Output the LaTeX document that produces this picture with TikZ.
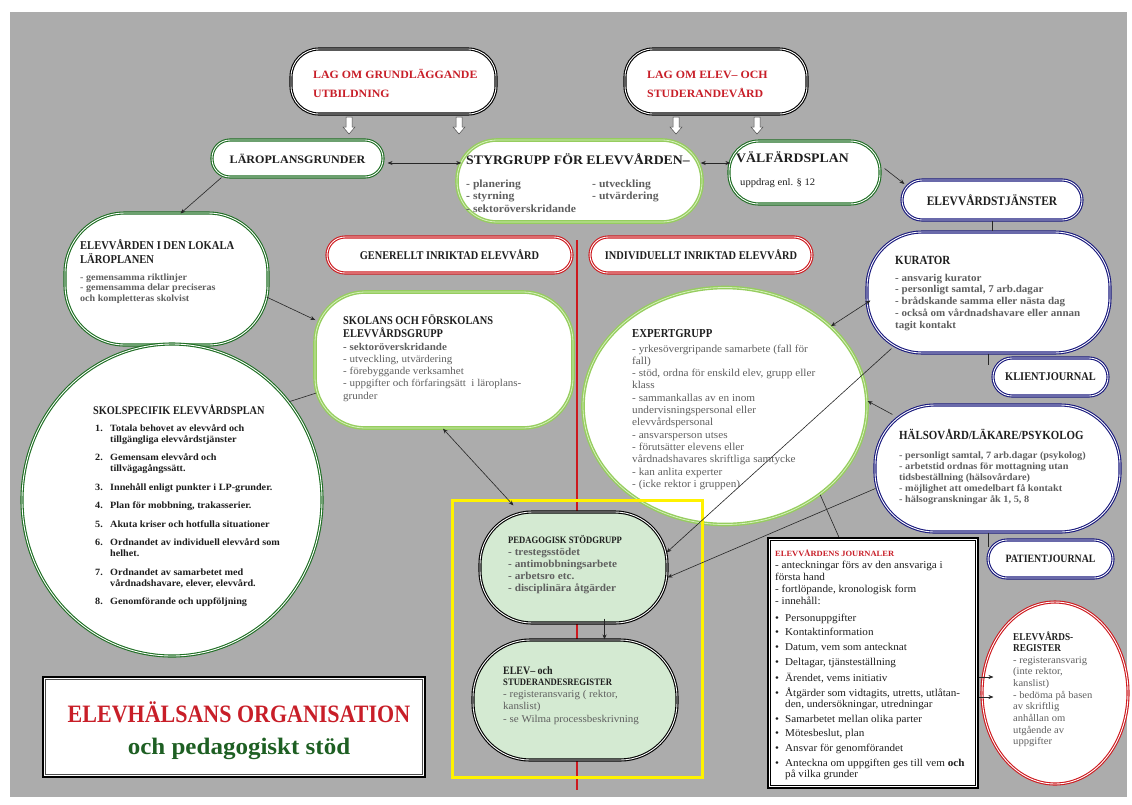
\documentclass[tikz,border=0pt]{standalone}
\usepackage{fontspec}
\setmainfont{Liberation Serif}[FakeStretch=1.06]
\newfontfamily\cf{Liberation Serif}[FakeStretch=0.88]
\usetikzlibrary{arrows.meta,calc,shapes.geometric}
\definecolor{bgC}{RGB}{172,172,172}
\definecolor{dgC}{RGB}{30,110,35}
\definecolor{lgC}{RGB}{150,205,95}
\definecolor{lgInC}{RGB}{215,240,190}
\definecolor{nvC}{RGB}{25,25,125}
\definecolor{rdC}{RGB}{205,25,30}
\definecolor{trC}{RGB}{200,30,40}
\definecolor{tgC}{RGB}{30,95,35}
\definecolor{gyC}{RGB}{95,95,95}
\definecolor{pgC}{RGB}{212,234,210}
\definecolor{txC}{RGB}{30,30,30}
\newcommand\myfs[2]{\fontsize{#1}{#2}\selectfont}
\newcommand\mytab[1]{\begin{tabular}[t]{@{}l@{}}#1\end{tabular}}
\begin{document}
\begin{tikzpicture}[x=1pt,y=-1pt,
 shp/.style n args={3}{rectangle, minimum width=#1pt, minimum height=#2pt, rounded corners=#3pt, inner sep=0pt, fill=white},
 ell/.style n args={2}{ellipse, minimum width=#1pt, minimum height=#2pt, inner sep=0pt, fill=white},
 bdk/.style={draw=black, double=white, line width=1.1pt, double distance=0.9pt},
 bdg/.style={draw=dgC, double=white, line width=1.1pt, double distance=0.9pt},
 blg/.style={draw=lgC, double=lgInC, line width=1.4pt, double distance=0.8pt},
 bnv/.style={draw=nvC, double=white, line width=1.1pt, double distance=0.9pt},
 brd/.style={draw=rdC, double=white, line width=1.1pt, double distance=0.9pt},
 txt/.style={inner sep=0pt, anchor=base west, text=txC},
 ctx/.style={inner sep=0pt, anchor=center, align=center, text=txC},
 con/.style={draw=black!85, line width=0.6pt},
 arr/.style={con, -{Stealth[length=5pt,width=4pt]}},
 darr/.style={con, {Stealth[length=5pt,width=4pt]}-{Stealth[length=5pt,width=4pt]}},
 hollow/.style={draw=black!70, fill=white, line width=0.5pt},
]
\useasboundingbox (0,0) rectangle (1132,804);
\fill[white] (0,0) rectangle (1132,804);
\fill[bgC] (10,12) rectangle (1127,797);

% red divider
\draw[rdC, line width=2.5pt] (577,240) -- (577,790);

% shapes
\node[shp={205}{65}{28}, bdk] (lag1) at (393.5,81.5) {};
\node[shp={182}{65}{28}, bdk] (lag2) at (716,81.5) {};
\node[shp={171}{37}{18}, bdg] (lpg) at (297.5,158.5) {};
\node[shp={245}{82}{40}, blg] (styr) at (579.5,181) {};
\node[shp={151}{63}{30}, bdg] (valf) at (804.5,172.5) {};
\node[shp={180}{40}{20}, bnv] (elt) at (992,200) {};
\node[shp={243}{121}{55}, bnv] (kur) at (988.5,292.5) {};
\node[shp={115}{38}{19}, bnv] (klient) at (1050.5,377) {};
\node[shp={245}{127}{60}, bnv] (hals) at (997.5,468.5) {};
\node[shp={125}{38}{19}, bnv] (pat) at (1050.5,559) {};
\node[shp={203}{132}{60}, bdg] (elv) at (166.5,279) {};
\node[shp={245}{36}{18}, brd] (gen) at (449.5,255) {};
\node[shp={222}{36}{18}, brd] (ind) at (701,255) {};
\node[shp={258}{136}{50}, blg] (sko) at (444,360) {};
\node[ell={300}{312}, bdg] (ssp) at (172,500) {};
\node[ell={284}{237}, blg] (exp) at (725,406) {};
\node[shp={187}{111}{52}, bdk, fill=pgC] (ped) at (573.5,567.5) {};
\node[shp={204}{120}{57}, bdk, fill=pgC] (reg) at (575,700) {};
\node[rectangle, minimum width=210pt, minimum height=250pt, draw=black, line width=2.5pt, fill=white, inner sep=0pt] (jour) at (873,663) {};
\draw[line width=0.8pt] ($(jour.north west)+(4,4)$) rectangle ($(jour.south east)+(-4,-4)$);
\node[ell={146}{182}, brd] (evr) at (1055,693) {};
\node[rectangle, minimum width=382pt, minimum height=100pt, draw=black, line width=2.5pt, fill=white, inner sep=0pt] (ttl) at (234,727) {};
\draw[line width=0.8pt, black!70] ($(ttl.north west)+(4,4)$) rectangle ($(ttl.south east)+(-4,-4)$);

% yellow frame
\draw[yellow, line width=3pt] (452,500) rectangle (702,777);

% hollow arrows under the laws
\foreach \cx in {349,459,676,757}
  \draw[hollow] (\cx-3,117) -- (\cx+3,117) -- (\cx+3,127) -- (\cx+6,127) -- (\cx,134) -- (\cx-6,127) -- (\cx-3,127) -- cycle;

% connectors
\draw[darr] ($(lpg.east)+(4,4.5)$) -- ($(styr.west|-lpg.east)+(5,4.5)$);
\draw[darr] ($(styr.east)+(-2,-18)$) -- ($(valf.west)+(2,-9.5)$);
\draw[arr] ($(valf.east)+(4,-4)$) -- ($(elt.west)+(3,-16)$);
\draw[con] (elt.south) -- (elt.south|-kur.north);
\draw[con] (kur.south) -- ($(kur.south|-klient.north)+(0,8)$);
\draw[con] ($(hals.south)+(-9,0)$) -- ($(hals.south|-pat.north)+(-9,8)$);
\draw[arr] ($(lpg.south west)+(10,0)$) -- ($(elv.north)+(14,1)$);
\draw[arr] ($(elv.east)+(-2,18)$) -- ($(sko.west)+(1,-40)$);
\draw[con] ($(sko.west)+(2,33)$) -- (ssp.40);
\draw[darr] ($(sko.south)+(-1,0)$) -- ($(ped.north west)+(34,-6)$);
\draw[darr] (exp.37) -- ($(kur.west)+(4,8)$);
\draw[arr] ($(hals.north west)+(18,10)$) -- (exp.2);
\draw[arr] ($(kur.south west)+(25,-5)$) -- ($(ped.east)+(-1,-15)$);
\draw[arr] ($(hals.west)+(1,20)$) -- ($(ped.east)+(0,10)$);
\draw[arr] ($(ped.south)+(31,-5)$) -- ($(ped.south|-reg.north)+(31,0)$);
\draw[con] (exp.-43) -- ($(jour.north west)+(72,0)$);
\draw[arr] ($(jour.east)+(0,14)$) -- ($(evr.west|-jour.east)+(12,14)$);
\draw[arr] ($(jour.east)+(0,34)$) -- ($(evr.west|-jour.east)+(12,34)$);

% texts
\node[txt, text=trC, font=\bfseries\myfs{11.2}{19}] (tlag1) at (313,78) {\mytab{LAG OM GRUNDLÄGGANDE\\UTBILDNING}};
\node[txt, text=trC, font=\bfseries\myfs{11.2}{19}] (tlag2) at (647,78) {\mytab{LAG OM ELEV– OCH\\STUDERANDEVÅRD}};
\node[ctx, font=\bfseries\myfs{11.4}{12}] (tlpg) at (lpg) {LÄROPLANSGRUNDER};
\node[txt, font=\bfseries\myfs{13}{14}] (tstyr) at (466,164) {STYRGRUPP FÖR ELEVVÅRDEN–};
\node[txt, text=gyC, font=\bfseries\myfs{11}{12.8}] (tstyra) at (466,187) {\mytab{- planering\\- styrning\\- sektoröverskridande}};
\node[txt, text=gyC, font=\bfseries\myfs{11}{12.8}] (tstyrb) at (592,187) {\mytab{- utveckling\\- utvärdering}};
\node[txt, font=\bfseries\myfs{13}{14}] (tvalf) at (736,162) {VÄLFÄRDSPLAN};
\node[txt, font=\myfs{10}{11}] (tvalfb) at (740,185) {uppdrag enl. § 12};
\node[ctx, font=\cf\bfseries\myfs{13}{13}] (telt) at (elt) {ELEVVÅRDSTJÄNSTER};
\node[txt, font=\cf\bfseries\myfs{12.5}{14}] (tkur) at (895,264) {KURATOR};
\node[txt, text=gyC, font=\bfseries\myfs{10.4}{11.8}] (tkurb) at (895,281) {\mytab{- ansvarig kurator\\- personligt samtal, 7 arb.dagar\\- brådskande samma eller nästa dag\\- också om vårdnadshavare eller annan\\tagit kontakt}};
\node[ctx, font=\cf\bfseries\myfs{11.8}{11}] (tklient) at (klient) {KLIENTJOURNAL};
\node[txt, font=\cf\bfseries\myfs{12.4}{14}] (thals) at (899,439) {HÄLSOVÅRD/LÄKARE/PSYKOLOG};
\node[txt, text=gyC, font=\bfseries\myfs{9.7}{11}] (thalsb) at (899,458) {\mytab{- personligt samtal, 7 arb.dagar (psykolog)\\- arbetstid ordnas för mottagning utan\\tidsbeställning (hälsovårdare)\\- möjlighet att omedelbart få kontakt\\- hälsogranskningar åk 1, 5, 8}};
\node[ctx, font=\cf\bfseries\myfs{11.2}{11}] (tpat) at (pat) {PATIENTJOURNAL};
\node[txt, font=\cf\bfseries\myfs{12}{14}] (telv) at (80,249) {\mytab{ELEVVÅRDEN I DEN LOKALA\\LÄROPLANEN}};
\node[txt, text=gyC, font=\bfseries\myfs{9.5}{10.6}] (telvb) at (80,280) {\mytab{- gemensamma riktlinjer\\- gemensamma delar preciseras\\och kompletteras skolvist}};
\node[ctx, font=\cf\bfseries\myfs{11.8}{12}] (tgen) at (gen) {GENERELLT INRIKTAD ELEVVÅRD};
\node[ctx, font=\cf\bfseries\myfs{11.8}{12}] (tind) at (ind) {INDIVIDUELLT INRIKTAD ELEVVÅRD};
\node[txt, font=\cf\bfseries\myfs{11.8}{13}] (tsko) at (343,324) {\mytab{SKOLANS OCH FÖRSKOLANS\\ELEVVÅRDSGRUPP}};
\node[txt, text=gyC, font=\myfs{10.4}{12.3}] (tskob) at (343,350) {\mytab{\textbf{- sektoröverskridande}\\- utveckling, utvärdering\\- förebyggande verksamhet\\- uppgifter och förfaringsätt\ \ i läroplans-\\grunder}};
\node[txt, font=\cf\bfseries\myfs{11.7}{14}] (tssp) at (93,414) {SKOLSPECIFIK ELEVVÅRDSPLAN};
\node[txt, font=\bfseries\myfs{9.6}{11}] (tsspb) at (95,431) {\mytab{\makebox[15pt][l]{1.}Totala behovet av elevvård och\\\hspace*{15pt}tillgängliga elevvårdstjänster\\[7.5pt]
\makebox[15pt][l]{2.}Gemensam elevvård och\\\hspace*{15pt}tillvägagångssätt.\\[7.5pt]
\makebox[15pt][l]{3.}Innehåll enligt punkter i LP-grunder.\\[7.5pt]
\makebox[15pt][l]{4.}Plan för mobbning, trakasserier.\\[7.5pt]
\makebox[15pt][l]{5.}Akuta kriser och hotfulla situationer\\[7.5pt]
\makebox[15pt][l]{6.}Ordnandet av individuell elevvård som\\\hspace*{15pt}helhet.\\[7.5pt]
\makebox[15pt][l]{7.}Ordnandet av samarbetet med\\\hspace*{15pt}vårdnadshavare, elever, elevvård.\\[7.5pt]
\makebox[15pt][l]{8.}Genomförande och uppföljning}};
\node[txt, font=\cf\bfseries\myfs{12.2}{13}] (texp) at (632,337) {EXPERTGRUPP};
\node[txt, text=gyC, font=\myfs{10.6}{12.3}] (texpb) at (632,352) {\mytab{- yrkesövergripande samarbete (fall för\\fall)\\- stöd, ordna för enskild elev, grupp eller\\klass\\- sammankallas av en inom\\undervisningspersonal eller\\elevvårdspersonal\\- ansvarsperson utses\\- förutsätter elevens eller\\vårdnadshavares skriftliga samtycke\\- kan anlita experter\\- (icke rektor i gruppen)}};
\node[txt, font=\cf\bfseries\myfs{9.8}{10}] (tped) at (508,543) {PEDAGOGISK STÖDGRUPP};
\node[txt, text=gyC, font=\bfseries\myfs{10.6}{12.3}] (tpedb) at (508,555) {\mytab{- trestegsstödet\\- antimobbningsarbete\\- arbetsro etc.\\- disciplinära åtgärder}};
\node[txt, font=\cf\bfseries\myfs{11.3}{12}] (treg) at (503,674) {ELEV– och};
\node[txt, font=\cf\bfseries\myfs{9.8}{10}] (treg2) at (503,685) {STUDERANDESREGISTER};
\node[txt, text=gyC, font=\myfs{10.4}{12.5}] (tregb) at (503,697) {\mytab{- registeransvarig ( rektor,\\kanslist)\\- se Wilma processbeskrivning}};
\node[txt, text=trC, font=\bfseries\myfs{8}{10}] (tjour) at (775,556) {ELEVVÅRDENS JOURNALER};
\node[txt, font=\myfs{10.5}{12}] (tjourb) at (775,568) {\mytab{- anteckningar förs av den ansvariga i\\första hand\\- fortlöpande, kronologisk form\\- innehåll:}};
\node[txt, font=\myfs{10.5}{10.5}] (tjourc) at (775,621) {\mytab{\makebox[10pt][l]{•}Personuppgifter\\[4.2pt]
\makebox[10pt][l]{•}Kontaktinformation\\[4.2pt]
\makebox[10pt][l]{•}Datum, vem som antecknat\\[4.2pt]
\makebox[10pt][l]{•}Deltagar, tjänsteställning\\[4.2pt]
\makebox[10pt][l]{•}Ärendet, vems initiativ\\[4.2pt]
\makebox[10pt][l]{•}Åtgärder som vidtagits, utretts, utlåtan-\\\hspace*{10pt}den, undersökningar, utredningar\\[4.2pt]
\makebox[10pt][l]{•}Samarbetet mellan olika parter\\[4.2pt]
\makebox[10pt][l]{•}Mötesbeslut, plan\\[4.2pt]
\makebox[10pt][l]{•}Ansvar för genomförandet\\[4.2pt]
\makebox[10pt][l]{•}Anteckna om uppgiften ges till vem \textbf{och}\\\hspace*{10pt}på vilka grunder}};
\node[txt, font=\cf\bfseries\myfs{10.5}{11.5}] (tevr) at (1013,640) {\mytab{ELEVVÅRDS-\\REGISTER}};
\node[txt, text=gyC, font=\myfs{10}{11.7}] (tevrb) at (1013,663) {\mytab{- registeransvarig\\(inte rektor,\\kanslist)\\- bedöma på basen\\av skriftlig\\anhållan om\\utgående av\\uppgifter}};
\node[ctx, text=trC, font=\cf\bfseries\myfs{25}{26}] (tttl) at (239,712) {ELEVHÄLSANS ORGANISATION};
\node[ctx, text=tgC, font=\bfseries\myfs{23.6}{26}] (tttl2) at (239,749) {och pedagogiskt stöd};
\end{tikzpicture}
\end{document}
